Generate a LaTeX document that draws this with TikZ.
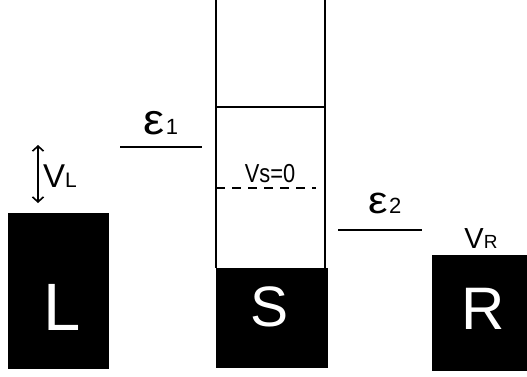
\documentclass[tikz,border=0pt]{standalone}
\usepackage{fontspec}
\setmainfont{Liberation Sans}
\usetikzlibrary{arrows.meta}
\begin{document}
\begin{tikzpicture}[x=1pt,y=-1pt,
  lead/.style={fill=black,draw=black,inner sep=0pt},
  bigletter/.style={text=white,inner sep=0pt},
  level/.style={line width=2pt},
  wall/.style={line width=2pt},
  lbl/.style={inner sep=0pt,anchor=base}]
\useasboundingbox (0,0) rectangle (527,377);
% electrode boxes
\node[lead,minimum width=100pt,minimum height=155pt] (Lbox) at (58,290.5) {};
\node[lead,minimum width=111pt,minimum height=99pt] (Sbox) at (271.5,317.5) {};
\node[lead,minimum width=95pt,minimum height=115pt] (Rbox) at (479.5,312.5) {};
\node[bigletter,font=\fontsize{67}{67}\selectfont] (Lt) at (62,307) {L};
\node[bigletter,font=\fontsize{57}{57}\selectfont] (St) at (270,307) {S};
\node[bigletter,font=\fontsize{60}{60}\selectfont] (Rt) at (483.5,308.5) {R};
% S column
\coordinate (w1t) at (216,-2);
\coordinate (w2t) at (325,-2);
\coordinate (w1b) at (216,268);
\coordinate (w2b) at (325,268);
\coordinate (h1) at (216,107);
\coordinate (h2) at (325,107);
\coordinate (d1) at (216,188);
\coordinate (d2) at (316,188);
\draw[wall] (w1t) -- (w1b);
\draw[wall] (w2t) -- (w2b);
\draw[wall] (h1) -- (h2);
\draw[line width=1.6pt,dash pattern=on 9pt off 7pt] (d1) -- (d2);
\node[lbl] (vs) at (270,182) {\fontsize{26}{26}\selectfont\scalebox{0.84}[1]{Vs=0}};
% levels
\coordinate (e1a) at (120,147);
\coordinate (e1b) at (202,147);
\draw[level] (e1a) -- (e1b);
\node[lbl] (e1) at (161,135) {\scalebox{1.1}[1]{\fontsize{43}{43}\selectfont ε}\hspace{1pt}\fontsize{22}{22}\selectfont 1};
\coordinate (e2a) at (338,230);
\coordinate (e2b) at (422,230);
\draw[level] (e2a) -- (e2b);
\node[lbl] (e2) at (385,213) {\scalebox{1.15}[1]{\fontsize{38}{38}\selectfont ε}\hspace{1pt}\fontsize{22}{22}\selectfont 2};
% V_L arrow
\coordinate (vla) at (38,145);
\coordinate (vlb) at (38,203);
\draw[line width=1.6pt,{Straight Barb[length=5pt,width=11pt]}-{Straight Barb[length=5pt,width=11pt]}] (vla) -- (vlb);
\node[lbl,anchor=base west] (vl) at (43,187) {\fontsize{33}{33}\selectfont V\fontsize{21}{21}\selectfont L};
\node[lbl] (vr) at (481,248) {\fontsize{29}{29}\selectfont V\fontsize{19}{19}\selectfont R};
\end{tikzpicture}
\end{document}
